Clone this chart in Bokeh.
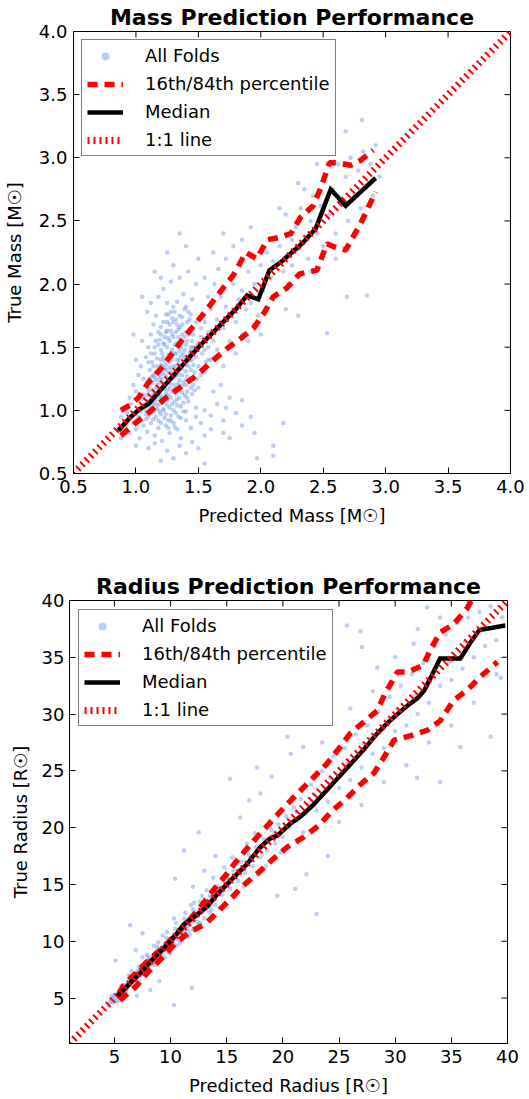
import math
from bokeh.plotting import figure
from bokeh.models import Range1d, FixedTicker, PrintfTickFormatter, Legend, LegendItem
from bokeh.layouts import column, row
from bokeh.embed import file_html
from bokeh.resources import INLINE

FONT = "DejaVu Sans"
POINT_COLOR = "#6495ED"

# ---------------- Mass panel data ----------------
mass_ticks = [0.5, 1.0, 1.5, 2.0, 2.5, 3.0, 3.5, 4.0]
mass_diag = [0.5, 4.0]

mass_med_x = [0.86, 0.95, 1.03, 1.10, 1.17, 1.25, 1.33, 1.42, 1.52, 1.62, 1.72, 1.80,
              1.89, 1.98, 2.07, 2.17, 2.26, 2.34, 2.44, 2.49, 2.56, 2.68, 2.80, 2.92]
mass_med_y = [0.84, 0.94, 1.01, 1.05, 1.13, 1.22, 1.31, 1.41, 1.52, 1.62, 1.72, 1.80,
              1.91, 1.88, 2.11, 2.18, 2.26, 2.33, 2.44, 2.57, 2.75, 2.62, 2.73, 2.84]

mass_hi_x = [0.88, 0.95, 1.02, 1.10, 1.20, 1.29, 1.38, 1.48, 1.57, 1.66, 1.78, 1.88,
             1.97, 2.05, 2.15, 2.24, 2.32, 2.42, 2.48, 2.55, 2.62, 2.72, 2.80, 2.90]
mass_hi_y = [1.00, 1.04, 1.10, 1.22, 1.33, 1.45, 1.57, 1.69, 1.80, 1.92, 2.07, 2.25,
             2.20, 2.35, 2.37, 2.40, 2.53, 2.62, 2.76, 2.96, 2.96, 2.94, 2.98, 3.06]

mass_lo_x = [0.88, 0.95, 1.01, 1.10, 1.24, 1.38, 1.49, 1.60, 1.73, 1.84, 1.94, 2.02,
             2.10, 2.21, 2.31, 2.45, 2.53, 2.60, 2.68, 2.80, 2.92]
mass_lo_y = [0.80, 0.86, 0.91, 0.98, 1.10, 1.20, 1.28, 1.38, 1.49, 1.57, 1.65, 1.76,
             1.90, 1.97, 2.08, 2.11, 2.32, 2.29, 2.27, 2.48, 2.73]

mass_cloud = [
    (1.02,0.95),(1.05,1.02),(1.08,0.93),(1.10,1.08),(1.12,0.98),(1.15,1.05),(1.18,0.92),(1.20,1.12),(1.22,1.01),(1.25,1.08),
    (1.28,0.96),(1.30,1.15),(1.33,1.04),(1.35,1.10),(1.38,0.99),(1.40,1.20),(1.42,1.07),(1.45,1.13),(1.48,1.02),(1.50,1.18),
    (1.06,1.12),(1.09,1.18),(1.11,1.25),(1.14,1.15),(1.16,1.30),(1.19,1.22),(1.21,1.35),(1.24,1.27),(1.26,1.40),(1.29,1.32),
    (1.31,1.45),(1.34,1.37),(1.36,1.50),(1.39,1.42),(1.41,1.55),(1.44,1.47),(1.46,1.60),(1.49,1.52),(1.52,1.65),(1.55,1.57),
    (1.13,1.38),(1.15,1.45),(1.18,1.52),(1.20,1.48),(1.23,1.58),(1.25,1.63),(1.27,1.55),(1.30,1.70),(1.32,1.62),(1.35,1.75),
    (1.37,1.68),(1.40,1.82),(1.43,1.72),(1.45,1.88),(1.28,1.78),(1.22,1.70),(1.18,1.62),(1.33,1.86),(1.38,1.92),(1.25,1.85),
    (1.17,1.20),(1.19,1.10),(1.23,1.17),(1.26,1.22),(1.24,1.13),(1.27,1.18),(1.29,1.25),(1.31,1.20),(1.21,1.25),(1.16,1.08),
    (1.13,1.12),(1.32,1.28),(1.35,1.24),(1.28,1.10),(1.22,1.06),(1.26,1.30),(1.30,1.35),(1.24,1.36),(1.19,1.32),(1.34,1.32),
    (1.11,1.03),(1.14,0.99),(1.17,1.01),(1.20,0.97),(1.23,0.94),(1.27,1.02),(1.31,1.07),(1.36,1.03),(1.39,1.12),(1.43,1.23),
    (1.47,1.30),(1.42,1.35),(1.37,1.28),(1.40,1.31),(1.45,1.40),(1.48,1.42),(1.50,1.35),(1.53,1.45),(1.56,1.38),(1.58,1.50),
    (1.07,1.05),(1.10,1.15),(1.13,1.22),(1.16,1.18),(1.19,1.28),(1.22,1.42),(1.25,1.50),(1.28,1.46),(1.31,1.52),(1.34,1.58),
    (1.37,1.60),(1.29,1.60),(1.23,1.52),(1.20,1.40),(1.17,1.35),(1.14,1.28),(1.11,1.32),(1.26,1.12),(1.29,1.15),(1.32,1.13),
    (1.35,1.17),(1.38,1.22),(1.41,1.27),(1.44,1.32),(1.33,1.40),(1.36,1.43),(1.39,1.48),(1.27,1.38),(1.24,1.32),(1.21,1.18),
    (1.18,1.14),(1.15,1.26),(1.12,1.45),(1.30,1.00),(1.34,0.95),(1.26,0.92),(1.22,1.00),(1.19,1.05),(1.16,0.95),(1.38,1.06),
    (1.41,1.15),(1.46,1.20),(1.49,1.25),(1.52,1.28),(1.43,1.45),(1.46,1.50),(1.40,1.62),(1.35,1.66),(1.32,1.72),(1.27,1.68),
    (1.20,1.60),(1.16,1.55),(1.24,1.76),(1.30,1.82),(1.42,1.78),(1.48,1.70),(1.52,1.58),(1.55,1.48),(1.58,1.40),(1.10,1.38),
    (1.04,0.99),(1.08,1.00),(1.13,1.06),(1.17,1.04),(1.21,1.09),(1.25,1.04),(1.29,1.05),(1.33,1.09),(1.37,1.14),(1.41,1.10),
    (1.06,1.09),(1.09,1.12),(1.12,1.17),(1.15,1.12),(1.18,1.17),(1.22,1.21),(1.25,1.16),(1.28,1.21),(1.31,1.17),(1.34,1.21),
    (1.37,1.19),(1.40,1.24),(1.44,1.18),(1.47,1.16),(1.10,1.22),(1.13,1.27),(1.16,1.24),(1.19,1.25),(1.22,1.29),(1.25,1.25),
    (1.28,1.29),(1.31,1.26),(1.34,1.28),(1.37,1.33),(1.40,1.36),(1.43,1.39),(1.46,1.36),(1.23,1.33),(1.27,1.34),(1.32,1.35),
    (1.14,1.35),(1.17,1.41),(1.20,1.36),(1.23,1.39),(1.26,1.44),(1.29,1.40),(1.32,1.45),(1.35,1.40),(1.38,1.45),(1.41,1.42),
    (1.44,1.50),(1.47,1.46),(1.21,1.45),(1.29,1.48),(1.35,1.47),(1.15,1.50),(1.19,1.56),(1.22,1.53),(1.26,1.57),(1.30,1.58),
    (1.33,1.53),(1.36,1.56),(1.39,1.58),(1.42,1.60),(1.45,1.55),(1.28,1.63),(1.34,1.64),(1.24,1.62),(1.40,1.52),(1.20,1.66),
    (1.25,1.70),(1.29,1.73),(1.33,1.68),(1.37,1.74),(1.41,1.70),(1.44,1.76),(1.31,1.78),(1.26,1.76),(1.39,1.80),
    (1.10,0.95),(1.14,0.93),(1.19,0.99),(1.24,0.97),(1.28,0.92),(1.32,0.98),(1.36,0.94),(1.40,0.99),(1.20,0.90),(1.08,0.97),
    (1.26,0.86),(1.31,0.87),
    (0.92,0.88),(0.95,0.82),(0.98,0.90),(1.00,0.85),(1.03,0.78),(1.06,0.88),(1.09,0.83),(1.12,0.90),(1.15,0.80),(1.18,0.86),
    (1.21,0.76),(1.24,0.88),(1.27,0.82),(1.30,0.90),(1.33,0.85),(1.36,0.78),(1.40,0.92),(1.44,0.86),(1.48,0.95),(1.52,0.90),
    (1.55,1.00),(1.60,0.96),(1.65,1.05),(1.70,0.92),(1.75,1.10),(1.80,0.98),(1.62,1.15),(1.68,1.20),(1.72,1.02),(1.85,1.08),
    (1.10,0.70),(1.25,0.68),(1.35,0.72),(1.45,0.75),(1.55,0.80),(1.20,0.60),(1.30,0.62),(1.15,0.74),(1.60,0.85),(1.70,0.82),
    (1.95,0.82),(2.10,0.72),(1.85,0.88),(2.18,0.90),(1.40,0.66),(1.75,0.78),(1.92,0.95),(1.50,0.70),(0.88,0.78),(1.00,0.72),
    (1.97,0.62),(2.10,0.64),(1.55,0.58),
    (0.95,1.10),(0.98,1.20),(1.00,1.15),(1.02,1.28),(1.04,1.35),(1.06,1.25),(1.08,1.42),(1.10,1.50),(1.12,1.60),(1.14,1.68),
    (1.16,1.75),(1.05,1.55),(1.00,1.40),(1.09,1.78),(1.12,1.85),(1.18,1.90),(1.22,1.96),(1.20,2.05),(1.28,2.02),(1.15,2.10),
    (1.30,2.15),(1.35,2.05),(1.42,2.10),(1.48,2.00),(1.25,2.25),(1.40,2.30),(1.05,1.90),(0.98,1.60),(1.35,2.40),(1.50,2.20),
    (1.52,1.52),(1.55,1.70),(1.58,1.62),(1.60,1.80),(1.62,1.55),(1.65,1.72),(1.68,1.90),(1.70,1.65),(1.72,1.82),(1.75,1.75),
    (1.78,2.00),(1.80,1.70),(1.82,1.88),(1.85,1.95),(1.88,1.80),(1.90,2.10),(1.92,1.85),(1.95,2.00),(1.98,1.75),(2.00,2.15),
    (2.02,1.95),(2.05,2.25),(2.08,2.05),(2.10,2.18),(2.12,1.90),(2.15,2.30),(2.18,2.10),(2.20,2.22),(2.22,2.00),(2.25,2.35),
    (1.55,1.30),(1.60,1.40),(1.65,1.48),(1.70,1.35),(1.75,1.55),(1.80,1.45),(1.85,1.60),(1.90,1.55),(1.95,1.68),(2.00,1.60),
    (1.58,1.90),(1.63,2.00),(1.66,2.12),(1.72,2.20),(1.78,2.30),(1.62,2.25),(1.70,2.40),(1.55,2.05),(1.85,2.35),(1.92,2.45),
    (2.25,2.15),(2.28,2.45),(2.30,2.28),(2.32,2.60),(2.35,2.38),(2.38,2.20),(2.40,2.50),(2.42,2.70),(2.45,2.40),(2.48,2.62),
    (2.50,2.30),(2.52,2.85),(2.55,2.55),(2.58,2.75),(2.60,2.40),(2.62,2.95),(2.65,2.65),(2.68,2.85),(2.70,2.50),(2.72,3.00),
    (2.75,2.70),(2.78,2.90),(2.80,2.60),(2.82,3.05),(2.85,2.78),(2.88,2.95),(2.90,2.70),(2.92,3.10),(2.68,3.21),(2.81,3.30),
    (2.30,2.80),(2.45,2.95),(2.55,3.10),(2.40,2.10),(2.60,2.20),(2.75,2.40),(2.95,2.85),(2.20,2.55),(2.35,2.75),(2.15,2.60),
    (2.69,1.90),(2.85,1.91),(2.53,1.61),(2.30,1.75),(2.20,1.80),
    (0.88,0.95),(0.90,1.02),(0.93,0.98),(0.96,1.05),(0.99,0.97),(0.86,0.86),(0.90,0.84),
]

# ---------------- Radius panel data ----------------
radius_ticks = [5, 10, 15, 20, 25, 30, 35, 40]
radius_diag = [1, 40]

radius_med_x = [5.2, 6.3, 7.4, 8.3, 9.4, 10.5, 11.2, 12.3, 13.3, 14.2, 15.3, 16.8, 18.0, 18.8, 19.5, 20.6, 21.6,
                22.7, 23.9, 25.1, 26.3, 27.3, 28.4, 29.3, 30.2, 31.3, 32.0, 32.6, 34.0, 35.8, 36.7, 37.5, 39.8]
radius_med_y = [5.1, 6.2, 7.3, 8.3, 9.4, 10.6, 11.5, 12.3, 13.1, 14.2, 15.3, 16.8, 18.3, 19.0, 19.3, 20.3, 21.0,
                22.0, 23.3, 24.6, 25.9, 27.0, 28.3, 29.2, 30.0, 30.9, 31.4, 32.1, 34.9, 34.9, 36.3, 37.4, 37.8]

radius_hi_x = [5.4, 5.8, 7.0, 8.2, 9.4, 10.6, 11.7, 12.8, 13.8, 14.9, 15.9, 17.0, 18.1, 19.2, 20.4, 21.6,
               22.7, 23.9, 25.1, 26.0, 27.2, 28.4, 29.1, 30.2, 31.1, 32.5, 33.1, 34.0, 35.2, 36.4, 37.3]
radius_hi_y = [5.4, 6.1, 7.3, 8.5, 9.5, 10.7, 11.9, 13.2, 14.5, 15.8, 17.1, 18.4, 19.6, 20.8, 22.1, 23.3,
               24.4, 25.6, 27.1, 28.3, 29.3, 30.3, 31.8, 33.7, 33.7, 34.3, 35.6, 37.2, 37.9, 39.3, 41.0]

radius_lo_x = [5.5, 6.9, 8.0, 9.2, 10.4, 11.8, 13.1, 14.3, 15.5, 16.7, 18.0, 19.2, 20.4, 21.9,
               23.2, 24.4, 25.6, 26.9, 28.1, 29.0, 29.9, 31.4, 32.9, 34.0, 35.2, 36.4, 37.6, 39.1]
radius_lo_y = [4.8, 6.0, 7.3, 8.5, 9.8, 10.9, 11.5, 12.7, 13.9, 15.1, 16.2, 17.3, 18.3, 19.2,
               20.2, 21.5, 22.5, 23.8, 24.8, 26.2, 27.7, 28.1, 28.6, 29.4, 31.2, 32.1, 33.3, 34.6]

radius_cloud = [
    (4.5,4.3),(4.7,4.9),(4.9,4.6),(5.1,5.3),(5.3,5.0),(5.5,5.6),(5.7,5.4),(5.9,6.1),(6.1,5.8),(6.3,6.5),
    (6.5,6.2),(6.7,6.9),(6.9,6.6),(7.1,7.4),(7.3,7.0),(7.5,7.8),(7.7,7.4),(7.9,8.2),(8.1,7.8),(8.3,8.6),
    (8.5,8.2),(8.7,9.0),(8.9,8.6),(9.1,9.4),(9.3,9.0),(9.5,9.8),(9.7,9.4),(9.9,10.2),(10.1,9.8),(10.3,10.6),
    (10.5,10.2),(10.7,11.0),(10.9,10.6),(11.1,11.4),(11.3,11.0),(11.5,11.8),(11.7,11.4),(11.9,12.2),(12.1,11.8),(12.3,12.6),
    (4.8,5.2),(5.2,4.7),(5.6,6.0),(6.0,5.5),(6.4,6.9),(6.8,6.3),(7.2,7.8),(7.6,7.1),(8.0,8.6),(8.4,7.9),
    (8.8,9.5),(9.2,8.7),(9.6,10.3),(10.0,9.4),(10.4,11.1),(10.8,10.1),(11.2,12.0),(11.6,10.9),(12.0,12.8),(12.4,11.7),
    (9.0,9.1),(9.4,9.5),(9.8,9.9),(10.2,10.1),(10.6,10.7),(11.0,11.0),(11.4,11.5),(11.8,11.9),(12.2,12.1),(12.6,12.7),
    (13.0,12.8),(13.4,13.5),(8.6,8.8),(8.2,8.1),(7.8,7.9),(7.4,7.5),(7.0,7.1),(6.6,6.6),(6.2,6.3),(5.8,5.8),
    (9.5,8.6),(10.0,8.9),(10.5,9.6),(11.0,10.1),(11.5,10.4),(12.0,11.0),(12.5,11.4),(13.0,12.0),(13.5,12.5),(10.3,12.0),
    (9.3,10.5),(8.5,9.6),(11.8,13.2),(12.8,14.0),(13.2,14.5),(12.6,13.5),(7.5,8.6),(8.0,7.2),(6.5,7.4),(5.5,4.8),
    (4.6,4.6),(4.9,5.0),(5.0,4.8),(5.3,5.4),(5.4,5.2),(5.6,5.5),(5.9,5.9),(6.0,6.2),(6.2,6.0),(6.4,6.4),
    (6.6,6.8),(6.8,6.6),(7.0,7.0),(7.2,7.3),(7.3,7.6),(7.6,7.6),(7.7,7.8),(8.0,8.0),(8.1,8.3),(8.3,8.3),
    (8.6,8.5),(8.8,8.9),(9.0,8.8),(9.2,9.2),(9.5,9.4),(9.6,9.6),(9.9,9.7),(10.0,10.0),(10.2,10.4),(10.4,10.3),
    (10.7,10.6),(10.8,10.9),(11.0,10.8),(11.2,11.2),(11.5,11.3),(11.6,11.6),(11.9,11.7),(12.1,12.2),(12.4,12.3),(12.7,12.5),
    (12.9,13.0),(13.1,13.2),(13.4,13.1),(13.6,13.8),(13.9,14.0),(8.9,9.9),(9.7,10.8),(10.5,11.6),(11.3,12.5),(12.1,13.4),
    (9.9,9.0),(10.8,9.8),(11.7,10.6),(12.6,11.6),(13.6,12.8),(7.2,6.5),(6.3,7.0),(8.7,7.9),(7.9,8.8),
    (10.3,4.4),(11.9,5.9),(8.2,5.7),(9.0,6.5),(7.0,5.2),(6.4,11.4),(5.1,8.3),(7.5,10.7),(6.9,9.2),
    (13.5,14.0),(14.0,13.2),(14.3,14.8),(14.6,14.1),(15.0,15.6),(15.3,14.6),(15.6,16.2),(16.0,15.3),(16.3,17.0),(16.6,16.0),
    (17.0,17.6),(17.3,16.6),(17.6,18.3),(18.0,17.4),(18.3,19.0),(18.6,18.0),(19.0,19.8),(19.3,18.6),(19.6,20.3),(20.0,19.2),
    (20.3,21.0),(20.6,20.0),(21.0,21.8),(21.3,20.6),(21.6,22.5),(22.0,21.2),(14.8,16.5),(15.8,13.9),(16.8,18.6),(17.8,15.9),
    (18.8,20.6),(19.8,17.8),(20.8,22.7),(21.8,19.6),(13.8,15.6),(14.4,12.9),(15.5,17.4),(16.5,14.8),(17.5,19.5),(18.5,16.6),
    (13.2,13.4),(14.1,14.3),(15.2,15.1),(16.2,16.3),(17.2,17.1),(18.2,18.3),(19.2,19.4),(20.2,20.1),(21.2,21.4),(22.2,22.0),
    (15.3,24.3),(17.7,25.3),(12.5,19.6),(17.0,22.4),(16.2,20.9),(11.2,18.0),(10.4,15.5),(23.0,12.4),(21.1,14.6),(22.1,15.9),
    (19.5,14.0),(14.0,17.5),(13.0,16.2),(12.0,14.8),(24.0,17.5),
    (22.5,23.8),(23.0,21.5),(23.5,25.0),(24.0,22.3),(24.5,26.3),(25.0,23.5),(25.5,27.0),(26.0,24.2),(26.5,28.2),(27.0,25.3),
    (27.5,29.0),(28.0,26.5),(28.5,30.2),(29.0,27.0),(29.5,31.5),(30.0,28.5),(30.5,32.5),(31.0,29.0),(31.5,33.5),(32.0,30.0),
    (32.5,34.5),(33.0,31.0),(33.5,36.0),(34.0,32.5),(34.5,37.0),(35.0,33.0),(35.5,38.0),(36.0,34.0),(36.5,38.5),(37.0,35.0),
    (37.5,39.0),(38.0,36.0),(38.5,39.5),(39.0,36.5),(39.5,38.5),(22.8,22.9),(24.2,24.4),(25.8,25.7),(27.2,27.4),(28.8,28.6),
    (30.2,30.4),(31.8,31.6),(33.2,33.3),(34.8,34.6),(36.2,36.4),(37.8,37.6),(26.0,30.5),(28.0,32.0),(30.0,35.0),(32.0,37.5),
    (25.0,20.5),(27.0,22.0),(29.0,24.0),(31.0,25.5),(33.0,27.5),(35.0,29.0),(37.0,31.0),(39.0,33.5),(23.5,27.5),(34.0,38.5),
    (25.7,37.8),(27.05,35.9),(28.4,34.1),(32.85,39.4),(26.9,37.3),(31.65,36.2),(39.4,33.2),(34.0,24.0),(31.95,24.4),(38.5,28.0),
    (35.8,27.1),(20.4,28.0),(20.7,26.5),(21.8,27.1),(19.0,24.5),(18.0,23.0),(22.0,30.0),(24.0,31.5),
]


def make_panel(title, xr, yr, ticks, fmt, xlabel, ylabel, frame_w, frame_h,
               bl, br, bt, bb, ylab_standoff, yaxis_standoff, legend_margin,
               cloud, lo_x, lo_y, med_x, med_y, hi_x, hi_y, diag):
    p = figure(frame_width=frame_w, frame_height=frame_h,
               x_range=Range1d(*xr), y_range=Range1d(*yr),
               output_backend="svg", toolbar_location=None,
               min_border_left=bl, min_border_right=br,
               min_border_top=bt, min_border_bottom=bb,
               x_axis_label=xlabel, y_axis_label=ylabel)
    p.title.text = title
    p.title.text_font = FONT
    p.title.text_font_size = "22px"
    p.title.text_font_style = "bold"
    p.title.text_color = "black"
    p.title.align = "center"
    p.title.standoff = 4
    p.grid.visible = False
    p.outline_line_color = "black"
    p.outline_line_width = 1
    p.background_fill_color = "white"
    p.border_fill_color = "white"

    for ax in p.axis:
        ax.ticker = FixedTicker(ticks=ticks)
        ax.formatter = PrintfTickFormatter(format=fmt)
        ax.major_tick_in = 6
        ax.major_tick_out = 0
        ax.minor_tick_line_color = None
        ax.axis_line_color = "black"
        ax.major_tick_line_color = "black"
        ax.major_label_text_font = FONT
        ax.major_label_text_font_size = "18px"
        ax.major_label_text_color = "black"
        ax.axis_label_text_font = FONT
        ax.axis_label_text_font_size = "18px"
        ax.axis_label_text_font_style = "normal"
        ax.axis_label_text_color = "black"
    for ax in p.below:
        ax.major_label_standoff = 6
        ax.axis_label_standoff = 9
    for ax in p.left:
        ax.major_label_standoff = ylab_standoff
        ax.axis_label_standoff = yaxis_standoff

    # inward ticks on the top and right edges of the frame (matplotlib classic style)
    n = len(ticks)
    p.ray(x=[xr[1]] * n, y=ticks, length=6, length_units="screen", angle=math.pi,
          line_color="black", line_width=1)
    p.ray(x=ticks, y=[yr[1]] * n, length=6, length_units="screen", angle=-math.pi / 2,
          line_color="black", line_width=1)

    cx = [c[0] for c in cloud]
    cy = [c[1] for c in cloud]
    sc = p.scatter(cx, cy, size=4.5, color=POINT_COLOR, alpha=0.45, line_color=None)
    lo = p.line(lo_x, lo_y, line_color="red", line_width=5.5, line_dash="10 7", line_cap="butt")
    p.line(hi_x, hi_y, line_color="red", line_width=5.5, line_dash="10 7", line_cap="butt")
    md = p.line(med_x, med_y, line_color="black", line_width=4.5, line_join="miter")
    dg = p.line(diag, diag, line_color="red", line_width=7, line_dash="2 4", line_cap="butt")

    legend = Legend(items=[LegendItem(label="All Folds", renderers=[sc]),
                           LegendItem(label="16th/84th percentile", renderers=[lo]),
                           LegendItem(label="Median", renderers=[md]),
                           LegendItem(label="1:1 line", renderers=[dg])],
                    location="top_left", margin=legend_margin, padding=5, spacing=7,
                    glyph_width=36, glyph_height=20, label_standoff=22,
                    label_text_font=FONT, label_text_font_size="18px",
                    label_text_color="black",
                    border_line_color="black", border_line_width=1,
                    background_fill_color="white", background_fill_alpha=1)
    p.add_layout(legend)
    return p


p1 = make_panel("Mass Prediction Performance", (0.5, 4.0), (0.5, 4.0), mass_ticks, "%.1f",
                "Predicted Mass [M\u2609]", "True Mass [M\u2609]", 437, 442,
                73, 19, 31, 76, 6, 11, 8,
                mass_cloud, mass_lo_x, mass_lo_y, mass_med_x, mass_med_y, mass_hi_x, mass_hi_y, mass_diag)

p2 = make_panel("Radius Prediction Performance", (1, 40), (1, 40), radius_ticks, "%d",
                "Predicted Radius [R\u2609]", "True Radius [R\u2609]", 438, 443,
                69, 22, 51, 56, 5, 8, 9,
                radius_cloud, radius_lo_x, radius_lo_y, radius_med_x, radius_med_y, radius_hi_x, radius_hi_y, radius_diag)

layout = column(row(p1), row(p2), spacing=0)
open("out.html", "w").write(file_html(layout, INLINE))
